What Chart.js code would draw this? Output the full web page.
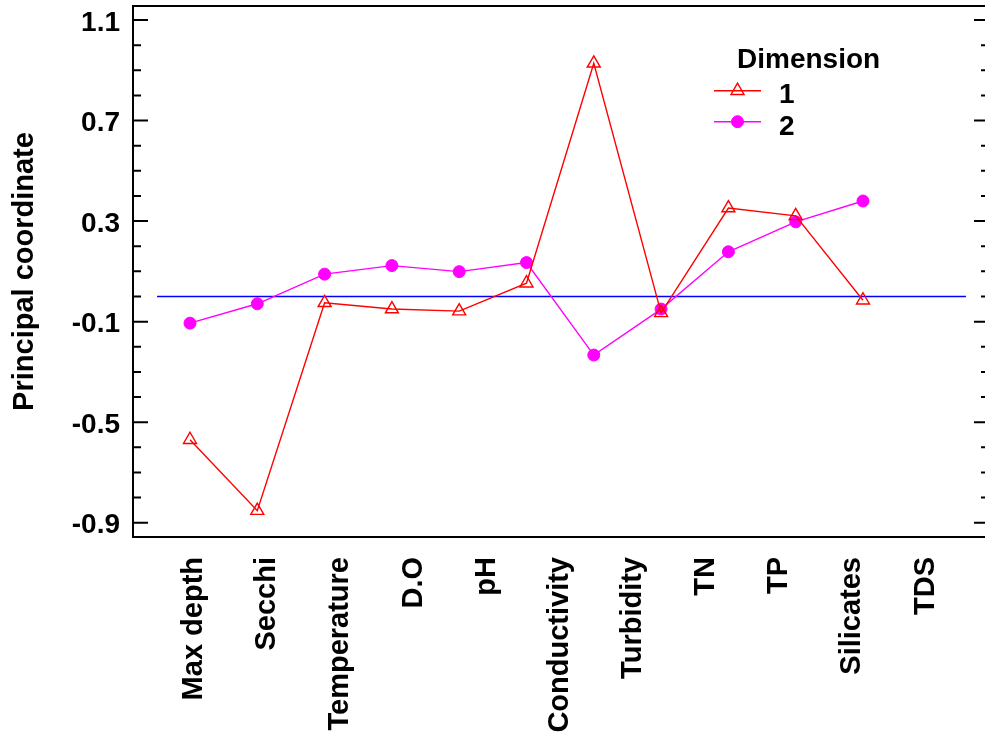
<!DOCTYPE html>
<html>
<head>
<meta charset="utf-8">
<script src="https://cdn.jsdelivr.net/npm/chart.js@4.4.1/dist/chart.umd.min.js"></script>
<style>
  body { margin: 0; background: #fff; }
  #wrap { width: 985px; height: 738px; }
</style>
</head>
<body>
<div id="wrap"><canvas id="mycanvas" width="985" height="738"></canvas></div>
<script>
// variables along the x axis
var categories = ['Max depth', 'Secchi', 'Temperature', 'D.O', 'pH', 'Conductivity',
                  'Turbidity', 'TN', 'TP', 'Silicates', 'TDS'];
// point positions (index) of the two dimensions
var pointIndex = [1, 2, 3, 4, 5, 6, 7, 8, 9, 10, 11];
var dim1 = [-0.570, -0.852, -0.025, -0.050, -0.058, 0.053, 0.928, -0.065, 0.352, 0.321, -0.015];
var dim2 = [-0.106, -0.029, 0.089, 0.123, 0.099, 0.135, -0.233, -0.050, 0.178, 0.297, 0.380];
// zero reference line
var refLineX = [0.51, 12.53];
var refLineY = 0;
var yTicks = [-0.9, -0.5, -0.1, 0.3, 0.7, 1.1];

var FONT = "'Liberation Sans', Arial, sans-serif";
Chart.defaults.font.family = FONT;
Chart.defaults.font.weight = 'bold';
Chart.defaults.font.size = 28;
Chart.defaults.color = '#000';

function pts(xs, ys) {
  var out = [];
  for (var i = 0; i < xs.length; i++) out.push({x: xs[i], y: ys[i]});
  return out;
}

// frame + inward ticks like the original
var framePlugin = {
  id: 'frame',
  beforeDatasetsDraw: function(chart) {
    var ctx = chart.ctx, a = chart.chartArea, y = chart.scales.y;
    ctx.save();
    ctx.strokeStyle = '#000';
    ctx.lineWidth = 2;
    ctx.beginPath();
    ctx.moveTo(a.right + 2, a.top);
    ctx.lineTo(a.left, a.top);
    ctx.lineTo(a.left, a.bottom);
    ctx.lineTo(a.right + 2, a.bottom);
    for (var v = -9; v <= 11; v++) {
      var py = y.getPixelForValue(v / 10);
      var major = yTicks.some(function(t) { return Math.abs(t * 10 - v) < 0.01; });
      ctx.moveTo(a.left, py); ctx.lineTo(a.left + (major ? 15 : 8), py);
      ctx.moveTo(a.right, py); ctx.lineTo(a.right - (major ? 11 : 4), py);
    }
    ctx.stroke();
    ctx.restore();
  }
};

// legend box top right
var legendPlugin = {
  id: 'dimLegend',
  afterDraw: function(chart) {
    var ctx = chart.ctx;
    ctx.save();
    ctx.font = 'bold 28px ' + FONT;
    ctx.fillStyle = '#000';
    ctx.textBaseline = 'alphabetic';
    ctx.fillText('Dimension', 737, 68);
    var rows = [{ds: chart.data.datasets[0], y: 90.7, ty: 103},
                {ds: chart.data.datasets[1], y: 121.7, ty: 135}];
    rows.forEach(function(r) {
      ctx.strokeStyle = r.ds.borderColor;
      ctx.lineWidth = r.ds.borderWidth;
      ctx.beginPath();
      ctx.moveTo(714, r.y); ctx.lineTo(761, r.y);
      ctx.stroke();
      ctx.fillStyle = r.ds.pointBackgroundColor;
      ctx.strokeStyle = r.ds.pointBorderColor;
      ctx.lineWidth = r.ds.pointBorderWidth;
      Chart.helpers.drawPoint(ctx, {pointStyle: r.ds.pointStyle, radius: r.ds.pointRadius,
        rotation: 0, borderWidth: r.ds.pointBorderWidth}, 737.5, r.y);
      ctx.fillStyle = '#000';
      ctx.fillText(r.ds.label, 779, r.ty);
    });
    ctx.restore();
  }
};

var ctx = document.getElementById('mycanvas');
var chart = new Chart(ctx, {
  type: 'line',
  data: {
    datasets: [
      {
        label: '1',
        data: pts(pointIndex, dim1),
        borderColor: '#ff0000',
        borderWidth: 1.4,
        pointStyle: 'triangle',
        pointRadius: 7.5,
        pointBorderColor: '#ff0000',
        pointBackgroundColor: 'rgba(0,0,0,0)',
        pointBorderWidth: 1.4,
        tension: 0
      },
      {
        label: '2',
        data: pts(pointIndex, dim2),
        borderColor: '#ff00ff',
        borderWidth: 1.4,
        pointStyle: 'circle',
        pointRadius: 6,
        pointBorderColor: '#ff00ff',
        pointBackgroundColor: '#ff00ff',
        pointBorderWidth: 1,
        tension: 0
      },
      {
        label: 'zero',
        data: pts(refLineX, [refLineY, refLineY]),
        borderColor: '#0000ff',
        borderWidth: 1.5,
        pointRadius: 0
      }
    ]
  },
  options: {
    responsive: false,
    animation: false,
    events: [],
    layout: { autoPadding: false, padding: { top: 6, right: 0, left: 0, bottom: 0 } },
    plugins: { legend: { display: false }, tooltip: { enabled: false } },
    scales: {
      x: {
        type: 'linear', display: false, min: 0.153, max: 12.813
      },
      xl: {
        type: 'linear', position: 'bottom', min: 0.165, max: 11.813,
        grid: { display: false, drawTicks: false },
        border: { display: false },
        afterBuildTicks: function(s) {
          s.ticks = categories.map(function(c, i) { return {value: i + 1}; });
        },
        afterFit: function(s) {
          s.height = 738 - 537;
          s.paddingLeft = 0; s.paddingRight = 0;
        },
        ticks: {
          minRotation: 90, maxRotation: 90, padding: 20, autoSkip: false,
          font: { size: 29 },
          callback: function(v) { return categories[Math.round(v) - 1]; }
        }
      },
      y: {
        type: 'linear', position: 'left', min: -0.957, max: 1.156,
        grid: { display: false, drawTicks: false },
        border: { display: false },
        afterBuildTicks: function(s) {
          s.ticks = yTicks.map(function(v) { return {value: v}; });
        },
        afterFit: function(s) {
          s.width = 133;
          s.paddingTop = 0; s.paddingBottom = 0;
        },
        ticks: {
          padding: 13, labelOffset: 3,
          callback: function(v) { return v.toFixed(1); }
        },
        title: { display: true, text: 'Principal coordinate', font: { size: 29 },
                 padding: { top: 8, bottom: 0 } }
      }
    }
  },
  plugins: [framePlugin, legendPlugin]
});
</script>
</body>
</html>
